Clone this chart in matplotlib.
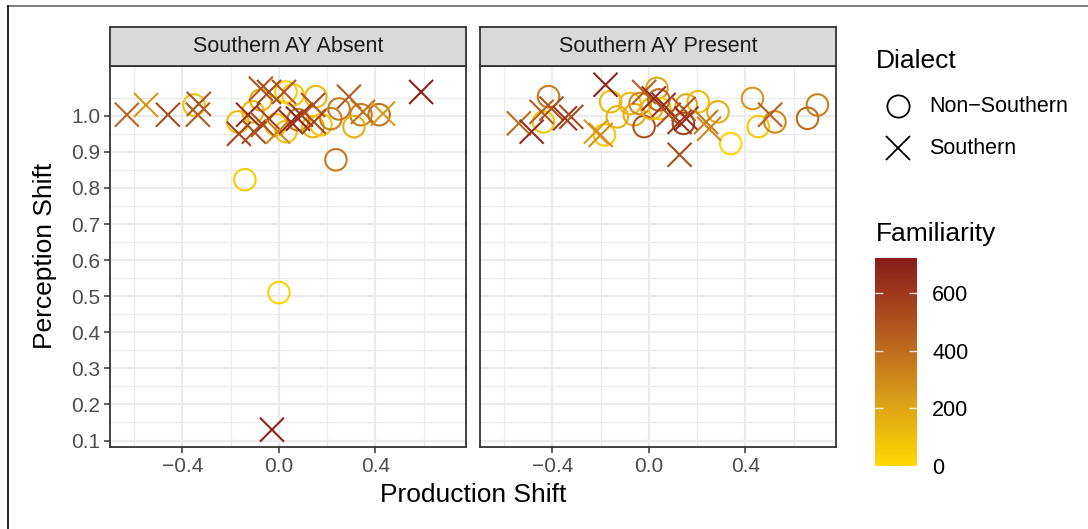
import matplotlib.pyplot as plt
import numpy as np
from matplotlib.colors import LinearSegmentedColormap, Normalize
from matplotlib.lines import Line2D
import matplotlib.cm as cm

plt.rcParams['font.family'] = ['Liberation Sans', 'DejaVu Sans']

# Southern AY Absent panel
abs_sx = [-0.630, -0.551, -0.460, -0.332, -0.336, -0.166, -0.128, -0.104, -0.075, -0.041,
          -0.066, -0.041, -0.004, 0.021, 0.050, 0.079, 0.091, 0.141, 0.145, 0.290,
          0.348, 0.431, 0.589, -0.029]
abs_sy = [1.003, 1.030, 1.003, 1.033, 1.003, 0.950, 1.003, 0.956, 1.075, 1.066,
          0.975, 0.992, 0.956, 1.066, 0.983, 0.992, 1.003, 1.030, 0.983, 1.053,
          1.011, 1.006, 1.066, 0.130]
abs_sf = [420, 250, 520, 500, 470, 560, 640, 520, 480, 520,
          500, 560, 300, 480, 620, 680, 600, 500, 540, 460,
          380, 250, 680, 680]
abs_nx = [-0.352, -0.170, -0.108, -0.075, -0.012, 0.029, 0.058, 0.153, 0.029, 0.079,
          0.141, 0.174, 0.215, 0.249, 0.340, 0.311, 0.415, 0.236, -0.141, 0.000]
abs_ny = [1.030, 0.983, 1.011, 1.044, 0.975, 1.066, 1.058, 1.053, 0.956, 0.989,
          0.970, 0.975, 0.992, 1.019, 1.003, 0.970, 1.003, 0.878, 0.823, 0.510]
abs_nf = [80, 100, 120, 150, 60, 30, 60, 120, 80, 350,
          150, 60, 330, 350, 330, 150, 380, 350, 40, 20]

# Southern AY Present panel
pre_sx = [-0.539, -0.486, -0.445, -0.404, -0.348, -0.322, -0.180, -0.220, -0.200, -0.020,
          0.020, 0.061, 0.082, 0.127, 0.143, 0.155, 0.237, 0.249, 0.127, 0.502]
pre_sy = [0.979, 0.956, 1.011, 1.020, 0.993, 0.997, 1.086, 0.956, 0.947, 1.066,
          1.048, 1.030, 1.003, 0.983, 1.019, 0.992, 0.983, 0.964, 0.892, 1.003]
pre_sf = [400, 650, 450, 500, 600, 520, 680, 230, 280, 450,
          650, 620, 500, 600, 480, 640, 350, 300, 520, 450]
pre_nx = [-0.416, -0.437, -0.184, -0.159, -0.131, -0.078, -0.061, -0.037, -0.020, 0.033,
          0.012, 0.045, 0.041, 0.143, 0.155, 0.204, 0.286, 0.339, 0.429, 0.453,
          0.522, 0.657, 0.698]
pre_ny = [1.053, 0.983, 0.947, 1.039, 0.997, 1.034, 1.003, 1.034, 0.970, 1.076,
          1.020, 1.020, 1.044, 0.979, 1.030, 1.039, 1.011, 0.923, 1.048, 0.970,
          0.983, 0.993, 1.030]
pre_nf = [350, 50, 60, 100, 150, 120, 180, 300, 500, 200,
          150, 60, 400, 550, 180, 100, 160, 0, 250, 60,
          300, 400, 330]

panels = ['Southern AY Absent', 'Southern AY Present']
x_ticks = [-0.4, 0.0, 0.4]
y_ticks = [0.1, 0.2, 0.3, 0.4, 0.5, 0.6, 0.7, 0.8, 0.9, 1.0]
cbar_ticks = [0, 200, 400, 600]

cmap = LinearSegmentedColormap.from_list(
    'fam', [(0, '#FFD700'), (0.3, '#DDA118'), (0.6, '#B9631F'), (1, '#8B1A1A')])
norm = Normalize(0, 721)

W, H = 1088, 529
fig = plt.figure(figsize=(W / 100, H / 100), dpi=100)

# outer frame lines
fig.add_artist(Line2D([8 / W, 1], [1 - 6 / H, 1 - 6 / H], color='#666666', lw=1.2))
fig.add_artist(Line2D([8 / W, 8 / W], [0, 1 - 6 / H], color='black', lw=1.2))

data = [(abs_sx, abs_sy, abs_sf, abs_nx, abs_ny, abs_nf),
        (pre_sx, pre_sy, pre_sf, pre_nx, pre_ny, pre_nf)]
lefts = [110, 480]
axes = []
for i, (sx, sy, sf, nx, ny, nf) in enumerate(data):
    ax = fig.add_axes([lefts[i] / W, 1 - 447 / H, 356 / W, 381 / H])
    axes.append(ax)
    ax.set_xlim(-0.70, 0.775)
    ax.set_ylim(0.082, 1.138)
    ax.set_xticks(x_ticks)
    ax.set_yticks(y_ticks)
    ax.set_xticks([-0.6, -0.2, 0.2, 0.6], minor=True)
    ax.set_yticks(np.arange(0.15, 1.1, 0.1), minor=True)
    ax.grid(True, which='major', color='#EBEBEB', lw=1.6)
    ax.grid(True, which='minor', color='#EBEBEB', lw=0.9)
    ax.set_axisbelow(True)
    for s in ax.spines.values():
        s.set_color('#333333')
        s.set_linewidth(1.3)
    ax.tick_params(which='minor', length=0)
    ax.tick_params(which='major', length=4, width=1.1, color='#333333',
                   labelcolor='#4D4D4D', labelsize=15, pad=3)
    ax.set_xticklabels(['\u22120.4', '0.0', '0.4'])
    if i == 0:
        ax.set_yticklabels([f'{v:.1f}' for v in y_ticks])
    else:
        ax.tick_params(axis='y', left=False, labelleft=False)
    ax.scatter(nx, ny, s=240, facecolors='none', edgecolors=cmap(norm(np.array(nf))),
               linewidths=1.5, zorder=3)
    ax.scatter(sx, sy, s=300, marker='x', c=cmap(norm(np.array(sf))),
               linewidths=1.5, zorder=3)
    # strip
    strip = fig.add_axes([lefts[i] / W, 1 - 66 / H, 356 / W, 39 / H])
    strip.set_facecolor('#D9D9D9')
    strip.set_xticks([])
    strip.set_yticks([])
    for s in strip.spines.values():
        s.set_color('#333333')
        s.set_linewidth(1.3)
    strip.text(0.5, 0.5, panels[i], ha='center', va='center', fontsize=15.5, color='#1A1A1A')

fig.text(45 / W, 1 - 256 / H, 'Perception Shift', rotation=90, ha='center', va='center',
         fontsize=19)
fig.text(473 / W, 1 - 495 / H, 'Production Shift', ha='center', va='center',
         fontsize=19)

# shape legend
fig.text(876 / W, 1 - 61 / H, 'Dialect', fontsize=19, va='center')
fig.add_artist(Line2D([898 / W], [1 - 106 / H], marker='o', markersize=16, mfc='none',
                      mec='black', mew=1.3, ls='none'))
fig.add_artist(Line2D([898 / W], [1 - 148 / H], marker='x', markersize=17,
                      color='black', mew=1.3, ls='none'))
fig.text(929 / W, 1 - 106 / H, 'Non\u2212Southern', fontsize=15.5, va='center')
fig.text(929 / W, 1 - 148 / H, 'Southern', fontsize=15.5, va='center')

# colour bar
fig.text(876 / W, 1 - 234 / H, 'Familiarity', fontsize=19, va='center')
cax = fig.add_axes([875 / W, 1 - 466 / H, 42 / W, 208 / H])
sm = cm.ScalarMappable(norm=norm, cmap=cmap)
cb = fig.colorbar(sm, cax=cax)
cb.outline.set_visible(False)
cb.set_ticks(cbar_ticks)
cb.ax.tick_params(length=0, labelsize=15.5, pad=11, labelcolor='black')
cax.hlines(cbar_ticks, 0, 0.18, color='white', lw=1, alpha=0.8)
cax.hlines(cbar_ticks, 0.82, 1, color='white', lw=1, alpha=0.8)

fig.savefig('out.png', dpi=100)
